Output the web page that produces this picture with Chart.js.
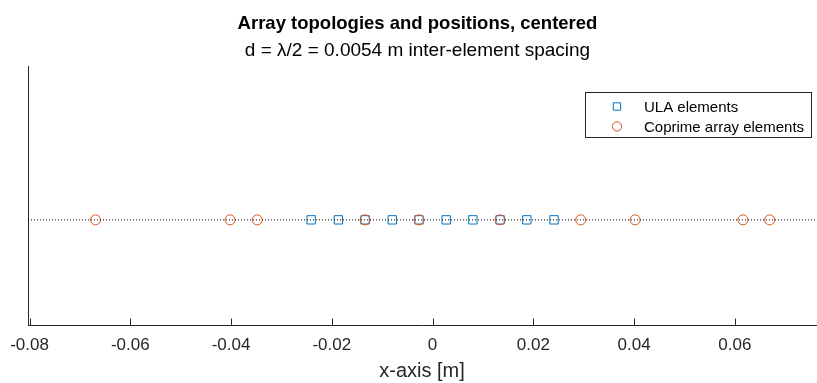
<!DOCTYPE html>
<html>
<head>
<meta charset="utf-8">
<script src="https://cdn.jsdelivr.net/npm/chart.js@4/dist/chart.umd.min.js"></script>
<style>
    body { margin: 0; background: #fff; }
    canvas { display: block; }
</style>
</head>
<body>
<canvas id="arrayChart" width="817" height="383"></canvas>
<script>
// element positions [m] (d ~ 0.00535 m)
const ulaPositions = [-0.0241, -0.0187, -0.0134, -0.0080, -0.0027, 0.0027, 0.0080, 0.0134, 0.0187, 0.0241];
const coprimePositions = [-0.0669, -0.0402, -0.0348, -0.0134, -0.0027, 0.0134, 0.0294, 0.0402, 0.0616, 0.0669];
const xTicks = [-0.08, -0.06, -0.04, -0.02, 0, 0.02, 0.04, 0.06];
const seriesLabels = ["ULA elements", "Coprime array elements"];

const xMin = -0.0803;
const xMax = 0.0761;

const axisColor = "#262626";
const fontFamily = "'Liberation Sans', Arial, sans-serif";

// inward tick marks, like matlab
const innerTicks = {
    id: "innerTicks",
    afterDraw(chart) {
        const ctx = chart.ctx;
        const xs = chart.scales.x;
        const bottom = chart.chartArea.bottom;
        ctx.save();
        ctx.strokeStyle = axisColor;
        ctx.lineWidth = 1;
        xTicks.forEach(v => {
            const px = Math.round(xs.getPixelForValue(v)) + 0.5;
            ctx.beginPath();
            ctx.moveTo(px, bottom);
            ctx.lineTo(px, bottom - 7);
            ctx.stroke();
        });
        ctx.restore();
    }
};

// legend box inside the axes (top right)
const boxLegend = {
    id: "boxLegend",
    afterDraw(chart) {
        const ctx = chart.ctx;
        const box = { x: 585.5, y: 92.5, w: 226, h: 45 };
        ctx.save();
        ctx.fillStyle = "#fff";
        ctx.fillRect(box.x, box.y, box.w, box.h);
        ctx.strokeStyle = axisColor;
        ctx.lineWidth = 1;
        ctx.strokeRect(box.x, box.y, box.w, box.h);

        seriesLabels.forEach((name, i) => {
            const ds = chart.data.datasets.find(d => d.label === name);
            const y = 106.5 + i * 20;
            ctx.strokeStyle = ds.pointBorderColor;
            ctx.fillStyle = "rgba(0,0,0,0)";
            ctx.lineWidth = 1;
            Chart.helpers.drawPoint(ctx, {
                pointStyle: ds.pointStyle,
                radius: ds.pointStyle === "rect" ? 5.2 : 4.6,
                borderWidth: 1,
                rotation: 0
            }, 617, y);
            ctx.fillStyle = "#000";
            ctx.font = "15px " + fontFamily;
            ctx.textBaseline = "middle";
            ctx.textAlign = "left";
            ctx.fillText(name, 644, y + 1);
        });
        ctx.restore();
    }
};

const ctx = document.getElementById("arrayChart").getContext("2d");

new Chart(ctx, {
    type: "scatter",
    data: {
        datasets: [
            {
                label: "",
                data: [{ x: xMin, y: 0 }, { x: xMax, y: 0 }],
                showLine: true,
                borderColor: "#000",
                borderWidth: 1,
                borderDash: [1, 2],
                pointRadius: 0,
                order: 0
            },
            {
                label: seriesLabels[1],
                data: coprimePositions.map(x => ({ x: x, y: 0 })),
                showLine: false,
                pointStyle: "circle",
                pointRadius: 5,
                pointBorderWidth: 1,
                pointBorderColor: "#D95319",
                pointBackgroundColor: "rgba(0,0,0,0)",
                order: 1
            },
            {
                label: seriesLabels[0],
                data: ulaPositions.map(x => ({ x: x, y: 0 })),
                showLine: false,
                pointStyle: "rect",
                pointRadius: 5.9,
                pointBorderWidth: 1,
                pointBorderColor: "#0072BD",
                pointBackgroundColor: "rgba(0,0,0,0)",
                order: 2
            }
        ]
    },
    options: {
        responsive: false,
        animation: false,
        layout: { autoPadding: false, padding: { left: 19, right: 1, top: 0, bottom: 0 } },
        plugins: {
            legend: { display: false },
            tooltip: { enabled: false },
            title: {
                display: true,
                text: "Array topologies and positions, centered",
                color: "#000",
                font: { family: fontFamily, size: 18.5, weight: "bold" },
                padding: { top: 12.5, bottom: 0 }
            },
            subtitle: {
                display: true,
                text: "d = \u03bb/2 = 0.0054 m inter-element spacing",
                color: "#000",
                font: { family: fontFamily, size: 19 },
                padding: { top: 4.5, bottom: 4.5 }
            }
        },
        scales: {
            x: {
                type: "linear",
                min: xMin,
                max: xMax,
                afterBuildTicks: scale => {
                    scale.ticks = xTicks.map(v => ({ value: v }));
                },
                afterFit: scale => {
                    scale.paddingLeft = 0;
                    scale.paddingRight = 0;
                },
                ticks: {
                    color: axisColor,
                    font: { family: fontFamily, size: 17 },
                    padding: 10,
                    autoSkip: false,
                    maxRotation: 0,
                    callback: v => String(v)
                },
                grid: { display: false, drawTicks: false },
                border: { display: true, color: axisColor, width: 1 },
                title: {
                    display: true,
                    text: "x-axis [m]",
                    color: axisColor,
                    font: { family: fontFamily, size: 20 },
                    padding: { top: -7, bottom: 0 }
                }
            },
            y: {
                type: "linear",
                min: -1,
                max: 1.45,
                afterFit: scale => {
                    scale.width = 9;
                },
                ticks: { display: false },
                grid: { display: false, drawTicks: false },
                border: { display: true, color: axisColor, width: 1 }
            }
        }
    },
    plugins: [innerTicks, boxLegend]
});
</script>
</body>
</html>
